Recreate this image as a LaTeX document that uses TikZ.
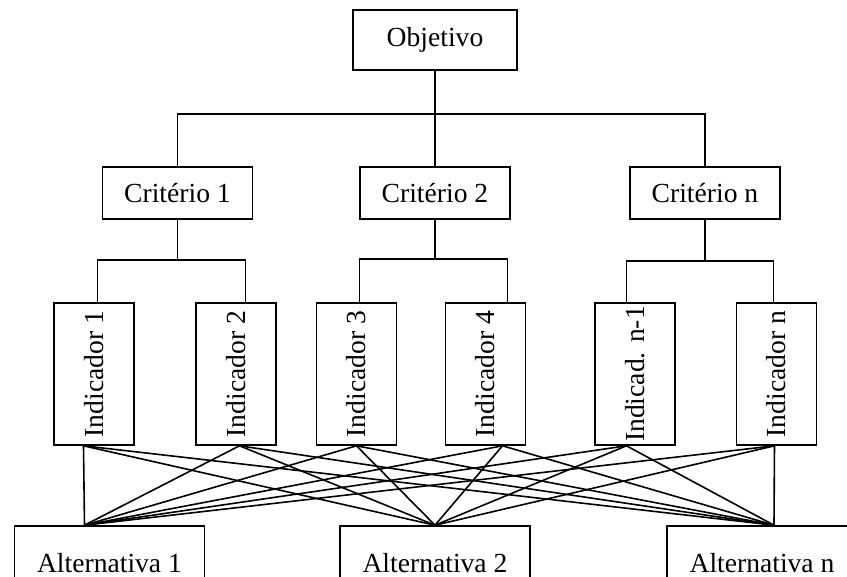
\documentclass[tikz,border=0pt]{standalone}
\usepackage{fontspec}
\setmainfont{Liberation Serif}
\usepackage{graphicx}

\begin{document}
\begin{tikzpicture}[thick,
  box/.style={rectangle,draw,inner sep=0pt,font=\fontsize{13.8}{16}\selectfont},
  goal node/.style={box,minimum width=82pt,minimum height=30pt},
  crit node/.style={box,minimum width=75pt,minimum height=26pt},
  ind node/.style={box,minimum width=40pt,minimum height=71pt},
  alt node/.style={box,minimum width=95pt,minimum height=37pt},
  elbow/.style={to path={-- ++(0,-#1) -| (\tikztotarget)}}]

  \useasboundingbox (-217.5pt,20pt) rectangle (206pt,-268.5pt);

  \node[goal node] (obj) {Objetivo};
  \node[crit node] (c2) [node distance=76.5pt,below of=obj] {Critério 2};
  \node[crit node] (c1) [node distance=128.75pt,left of=c2] {Critério 1};
  \node[crit node] (cn) [node distance=135pt,right of=c2] {Critério n};

  \node[ind node] (i1) [node distance=90.5pt,below of=c1,xshift=-41.75pt] {\rotatebox{90}{Indicador 1}};
  \node[ind node] (i2) [node distance=71pt,right of=i1] {\rotatebox{90}{Indicador 2}};
  \node[ind node] (i3) [node distance=60.25pt,right of=i2] {\rotatebox{90}{Indicador 3}};
  \node[ind node] (i4) [node distance=64.5pt,right of=i3] {\rotatebox{90}{Indicador 4}};
  \node[ind node] (i5) [node distance=74.75pt,right of=i4] {\rotatebox{90}{Indicad. n-1}};
  \node[ind node] (i6) [node distance=70.75pt,right of=i5] {\rotatebox{90}{Indicador n}};

  \node[alt node] (a2) [node distance=185pt,below of=c2] {Alternativa 2};
  \node[alt node] (a1) [node distance=162.75pt,left of=a2] {Alternativa 1};
  \node[alt node] (an) [node distance=163.5pt,right of=a2] {Alternativa n};

  \path (obj.south) edge (c2.north)
      edge [elbow=21.5pt] (c1.north)
      edge [elbow=21.5pt] (cn.north)
    (c1.south) edge [elbow=20pt] ([xshift=1.75pt]i1.north)
      edge [elbow=20pt] ([xshift=4.75pt]i2.north)
    (c2.south) edge [elbow=19.5pt] ([xshift=1.5pt]i3.north)
      edge [elbow=19.5pt] ([xshift=11pt]i4.north)
    (cn.south) edge [elbow=20.5pt] ([xshift=-4.25pt]i5.north)
      edge [elbow=20.5pt] ([xshift=-1.5pt]i6.north);

  % every indicator feeds every alternative
  \coordinate (i1b) at ([xshift=-5.25pt]i1.south);
  \coordinate (i2b) at ([xshift=1.75pt]i2.south);
  \coordinate (i3b) at (i3.south);
  \coordinate (i4b) at ([xshift=8.5pt]i4.south);
  \coordinate (i5b) at ([xshift=-4.25pt]i5.south);
  \coordinate (i6b) at ([xshift=-1pt]i6.south);
  \coordinate (a1t) at ([xshift=-12.5pt]a1.north);
  \coordinate (a2t) at (a2.north);
  \coordinate (ant) at ([xshift=6pt]an.north);

  \path (i1b) edge (a1t) edge (a2t) edge (ant)
    (i2b) edge (a1t) edge (a2t) edge (ant)
    (i3b) edge (a1t) edge (a2t) edge (ant)
    (i4b) edge (a1t) edge (a2t) edge (ant)
    (i5b) edge (a1t) edge (a2t) edge (ant)
    (i6b) edge (a1t) edge (a2t) edge (ant);
\end{tikzpicture}
\end{document}
